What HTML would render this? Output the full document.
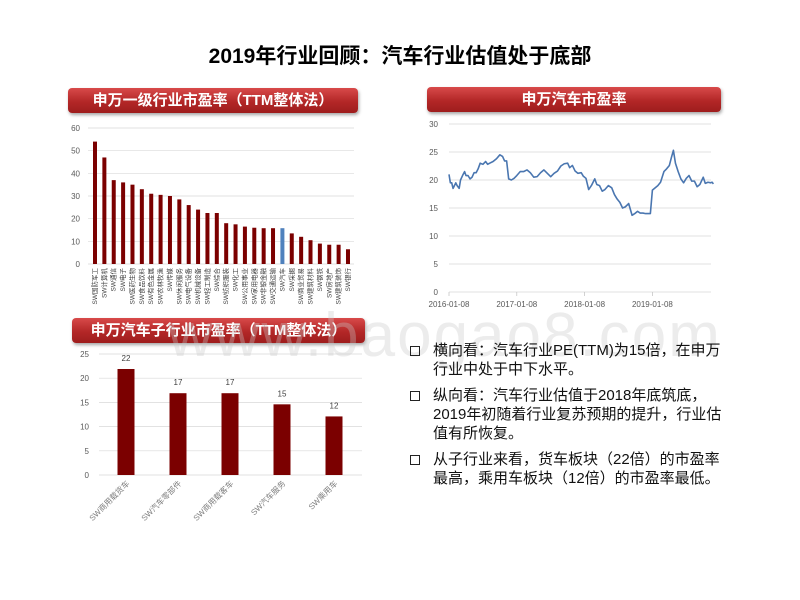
<!DOCTYPE html>
<html><head><meta charset="utf-8">
<style>
body{margin:0;width:800px;height:600px;background:#fff;overflow:hidden;position:relative;font-family:"Liberation Sans","Noto Sans CJK SC",sans-serif}
.banner{position:absolute;height:25px;border-radius:4px;background:linear-gradient(#d84a4a,#b32727 55%,#9e1d1d);box-shadow:1px 2px 3px rgba(0,0,0,.35);color:#fff;font-weight:bold;font-size:15px;line-height:25px;text-align:center}
.title{position:absolute;left:0;width:800px;top:40px;text-align:center;font-size:21px;font-weight:bold;color:#000}
.bul{position:absolute;left:410px;font-size:15px;color:#111;line-height:19px;width:380px;white-space:nowrap}
.bul .box{position:absolute;left:0;top:5px;width:8px;height:8px;border:1.5px solid #222}
.bul .t{margin-left:23px}
svg{position:absolute;left:0;top:0}
.wm{position:absolute;left:168px;top:300px;font-size:62px;color:rgba(200,200,200,.35);font-family:"Liberation Sans",sans-serif;letter-spacing:2px;white-space:nowrap}
</style></head><body>
<div class="title">2019年行业回顾：汽车行业估值处于底部</div>
<div class="banner" style="left:68px;top:88px;width:290px">申万一级行业市盈率（TTM整体法）</div>
<div class="banner" style="left:427px;top:87px;width:294px">申万汽车市盈率</div>
<svg width="800" height="600" id="svg"></svg>
<div class="banner" style="left:72px;top:318px;width:293px">申万汽车子行业市盈率（TTM整体法）</div>
<div class="wm">www.baogao8.com</div>
<div class="bul" style="top:341px"><div class="box"></div><div class="t">横向看：汽车行业PE(TTM)为15倍，在申万<br>行业中处于中下水平。</div></div>
<div class="bul" style="top:386px"><div class="box"></div><div class="t">纵向看：汽车行业估值于2018年底筑底，<br>2019年初随着行业复苏预期的提升，行业估<br>值有所恢复。</div></div>
<div class="bul" style="top:450px"><div class="box"></div><div class="t">从子行业来看，货车板块（22倍）的市盈率<br>最高，乘用车板块（12倍）的市盈率最低。</div></div>
<script>
const c1Cats=["SW国防军工","SW计算机","SW通信","SW电子","SW医药生物","SW食品饮料","SW有色金属","SW农林牧渔","SW传媒","SW休闲服务","SW电气设备","SW机械设备","SW轻工制造","SW综合","SW纺织服装","SW化工","SW公用事业","SW家用电器","SW非银金融","SW交通运输","SW汽车","SW采掘","SW商业贸易","SW建筑材料","SW钢铁","SW房地产","SW建筑装饰","SW银行"];
const c1Vals=[54,47,37,36,35,33,31,30.5,30,28.5,26,24,22.5,22.5,18,17.5,16.5,16,15.8,15.8,15.8,13.5,12,10.5,9,8.5,8.5,6.5];
const c1Ticks=[0,10,20,30,40,50,60];
const c2Dates=[2016.00,2016.02,2016.04,2016.06,2016.08,2016.10,2016.12,2016.15,2016.17,2016.20,2016.23,2016.25,2016.28,2016.31,2016.34,2016.37,2016.40,2016.43,2016.46,2016.50,2016.54,2016.57,2016.60,2016.65,2016.70,2016.75,2016.79,2016.82,2016.85,2016.88,2016.92,2016.96,2017.00,2017.05,2017.10,2017.15,2017.20,2017.25,2017.30,2017.35,2017.40,2017.45,2017.50,2017.55,2017.60,2017.65,2017.70,2017.75,2017.78,2017.82,2017.86,2017.90,2017.95,2017.98,2018.02,2018.06,2018.10,2018.15,2018.18,2018.22,2018.26,2018.30,2018.35,2018.40,2018.44,2018.48,2018.52,2018.56,2018.60,2018.65,2018.70,2018.74,2018.78,2018.82,2018.86,2018.90,2018.97,2019.00,2019.04,2019.08,2019.12,2019.17,2019.21,2019.25,2019.28,2019.31,2019.34,2019.38,2019.42,2019.46,2019.50,2019.54,2019.58,2019.62,2019.66,2019.70,2019.75,2019.78,2019.82,2019.86,2019.88,2019.90];
const c2Vals=[21,19.5,19.5,18.5,19,19.5,19,18.5,20,20.8,21.5,20.8,20.8,20.2,20.5,21.3,21.3,22,23,22.8,23.3,22.8,23,23.3,23.8,24.5,24.2,23.4,23.4,20.2,20,20.3,20.8,21.5,21.5,21.8,21.3,20.5,20.6,21.3,21.8,21.2,20.6,21.2,21.6,22.5,22.9,23,22.2,22.6,21.6,21.2,21.3,20.7,20.3,18.3,19,20.2,19.2,19,18,18.3,19,18.6,17.4,16.6,16,15,15.2,15.8,13.7,14,14.4,14.1,14.1,14,14,18.2,18.6,19,19.6,21.5,22,22.6,24,25.3,23,21.5,20.2,19.5,20.3,20.8,19.8,19.8,18.8,19.2,20.5,19.4,19.6,19.5,19.6,19.3];
const c2Ticks=[0,5,10,15,20,25,30];
const c2XTicks=[2016,2017,2018,2019];
const c2XLabels=["2016-01-08","2017-01-08","2018-01-08","2019-01-08"];
const c3Cats=["SW商用载货车","SW汽车零部件","SW商用载客车","SW汽车服务","SW乘用车"];
const c3Vals=[21.9,16.9,16.9,14.6,12.1];
const c3Labels=["22","17","17","15","12"];
const c3Ticks=[0,5,10,15,20,25];

const svg=document.getElementById('svg');
const NS='http://www.w3.org/2000/svg';
function mk(tag,attrs,parent){const e=document.createElementNS(NS,tag);for(const k in attrs)e.setAttribute(k,attrs[k]);(parent||svg).appendChild(e);return e;}
function txt(x,y,s,size,anchor,fill,tr){const t=mk('text',{x:x,y:y,'font-size':size,'text-anchor':anchor||'middle',fill:fill||'#595959','font-family':'"Liberation Sans","Noto Sans CJK SC",sans-serif'});if(tr)t.setAttribute('transform',tr);t.textContent=s;return t;}

// chart 1
const y1=v=>264-v*(136/60);
const x1=i=>95+i*9.37;
c1Ticks.forEach(t=>{
 const l=mk('line',{x1:88,x2:354,y1:y1(t),y2:y1(t),stroke:'#d9d9d9','stroke-width':0.7});
 
 
 const tt=txt(80,y1(t)+3,String(t),8,'end');
 
 
});
c1Vals.forEach((v,i)=>{
 const r=mk('rect',{x:x1(i)-2,y:y1(v),width:4,height:264-y1(v),fill:c1Cats[i]==='SW汽车'?'#4f81bd':'#7b0000'});
 
 
 const t=txt(0,0,c1Cats[i],6.5,'end','#404040','translate('+(x1(i)+2)+',268) rotate(-90)');
 
 
});

// chart 2
const y2=v=>292-v*(168/30);
const x2=d=>449+(d-2016)*67.8;
c2Ticks.forEach(t=>{
 const l=mk('line',{x1:449,x2:711,y1:y2(t),y2:y2(t),stroke:'#d9d9d9','stroke-width':0.7});
 
 
 const tt=txt(438,y2(t)+3,String(t),8,'end');
 
 
});
c2XTicks.forEach((d,i)=>{
 mk('line',{x1:x2(d),x2:x2(d),y1:292,y2:296,stroke:'#bfbfbf','stroke-width':0.7});
 const tt=txt(x2(d),307,c2XLabels[i],8,'middle');
 
 
});
const pl=mk('polyline',{points:c2Vals.map((v,i)=>x2(c2Dates[i])+','+y2(v)).join(' '),fill:'none',stroke:'#4a76b0','stroke-width':1.6,'stroke-linejoin':'round'});



// chart 3
const y3=v=>475-v*(121/25);
const x3=i=>126+i*52;
c3Ticks.forEach(t=>{
 const l=mk('line',{x1:99,x2:362,y1:y3(t),y2:y3(t),stroke:'#d9d9d9','stroke-width':0.7});
 
 
 const tt=txt(89,y3(t)+3,String(t),8,'end');
 
 
});
c3Vals.forEach((v,i)=>{
 const r=mk('rect',{x:x3(i)-8.5,y:y3(v),width:17,height:475-y3(v),fill:'#7b0000'});
 
 
 const lb=txt(x3(i),y3(v)-8,c3Labels[i],8,'middle','#404040');
 
 
 const t=txt(0,0,c3Cats[i],8,'end','#7f7f7f','translate('+(x3(i)+4)+',484) rotate(-45)');
 
 
});
</script>
</body></html>
